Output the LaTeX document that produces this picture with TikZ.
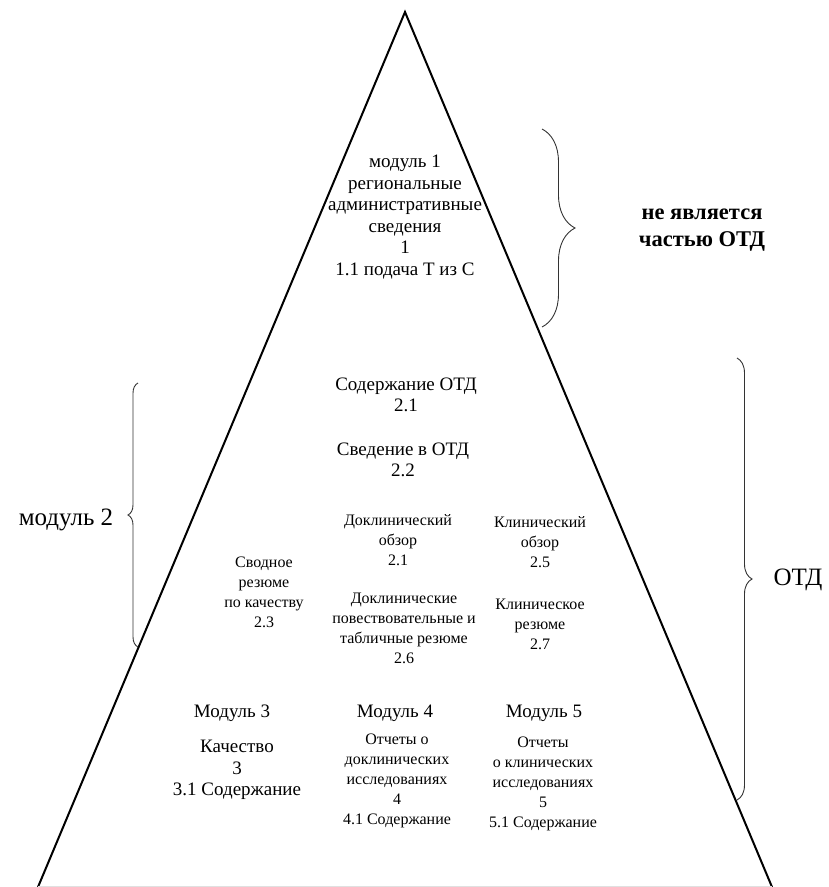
\documentclass[tikz,border=0pt]{standalone}
\usepackage{fontspec}
\setmainfont{Liberation Serif}
\usetikzlibrary{decorations.pathreplacing}

\begin{document}
\begin{tikzpicture}[x=1pt,y=-1pt,every node/.style={inner sep=0pt,align=center},
      txt/.style={font=\fontsize{19}{21.5}\selectfont},
      smalltxt/.style={font=\fontsize{16}{20}\selectfont},
      bigtxt/.style={font=\fontsize{25}{27}\selectfont},
      brc/.style={line width=0.9pt,black!80,decorate,decoration={brace,amplitude=#1}}]
      \useasboundingbox(0,0)rectangle(829,887);
      \draw[line width=2pt,line join=miter](38,887)--(405,12)--(772,887);
      \draw[black!12](38,886)--(772,886);
      \node[txt](mod1) at (405,217){модуль 1\\региональные\\административные\\сведения\\1\\1.1 подача Т из С};
      \node[txt](toc) at (406,395){Содержание ОТД\\2.1};
      \node[txt](intro) at (403,460){Сведение в ОТД\\2.2};
      \node[smalltxt](nclov) at (398,540){Доклинический\\обзор\\2.1};
      \node[smalltxt](ncls) at (404,628){Доклинические\\повествовательные и\\табличные резюме\\2.6};
      \node[smalltxt](clov) at (540,542){Клинический\\обзор\\2.5};
      \node[smalltxt](clsum) at (540,624){Клиническое\\резюме\\2.7};
      \node[smalltxt](qos) at (264,592){Сводное\\резюме\\по качеству\\2.3};
      \node[txt](m3) at (232,713){Модуль 3};
      \node[txt](m4) at (395,713){Модуль 4};
      \node[txt](m5) at (544,713){Модуль 5};
      \node[txt](qual) at (237,770){Качество\\3\\3.1 Содержание};
      \node[smalltxt](nclrep) at (397,781){Отчеты о\\доклинических\\исследованиях\\4\\4.1 Содержание};
      \node[smalltxt](clrep) at (543,784){Отчеты\\о клинических\\исследованиях\\5\\5.1 Содержание};
      \draw[brc=33](542,129)--(542,327);
      \draw[brc=15](737,358)--(737,800);
      \draw[brc=10](138,647)--(138,383);
      \node[font=\fontsize{22.5}{27}\selectfont\bfseries](notctd) at (702,230){не является\\частью ОТД};
      \node[bigtxt](mod2) at (66,520){модуль 2};
      \node[bigtxt](ctd) at (798,580){ОТД};
    \end{tikzpicture}
\end{document}
